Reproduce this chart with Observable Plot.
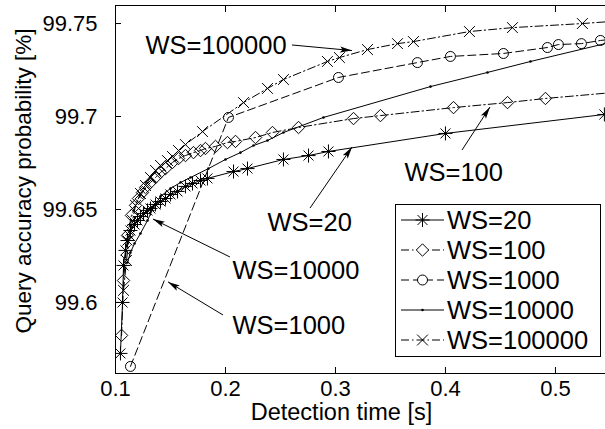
<!DOCTYPE html>
<html><head><meta charset="utf-8">
<script src="https://cdn.jsdelivr.net/npm/d3@7"></script>
<script src="https://cdn.jsdelivr.net/npm/@observablehq/plot@0.6"></script>
<style>html,body{margin:0;padding:0;background:#fff}svg{display:block}</style>
</head><body><div id="chart"></div>
<script>
// ---- data (detection time [s], query accuracy probability [%]) ----
const ws20 = [[0.1045,99.5726],[0.1064,99.6000],[0.1073,99.6199],[0.1091,99.6280],[0.1109,99.6333],[0.1136,99.6387],[0.1173,99.6419],[0.1200,99.6441],[0.1227,99.6462],[0.1255,99.6478],[0.1291,99.6495],[0.1318,99.6505],[0.1364,99.6527],[0.1409,99.6543],[0.1455,99.6559],[0.1500,99.6581],[0.1564,99.6597],[0.1636,99.6624],[0.1700,99.6640],[0.1773,99.6656],[0.1836,99.6667],[0.2073,99.6704],[0.2200,99.6720],[0.2527,99.6769],[0.2755,99.6790],[0.2936,99.6812],[0.4000,99.6909],[0.5445,99.7011]];
const ws100 = [[0.1055,99.5823],[0.1073,99.6118],[0.1109,99.6360],[0.1145,99.6468],[0.1182,99.6522],[0.1209,99.6559],[0.1245,99.6591],[0.1273,99.6618],[0.1318,99.6645],[0.1364,99.6672],[0.1409,99.6699],[0.1455,99.6720],[0.1518,99.6753],[0.1573,99.6774],[0.1636,99.6790],[0.1709,99.6806],[0.1773,99.6817],[0.1818,99.6828],[0.1909,99.6839],[0.2018,99.6860],[0.2091,99.6866],[0.2273,99.6887],[0.2427,99.6914],[0.2664,99.6941],[0.3164,99.6989],[0.3409,99.7005],[0.4073,99.7048],[0.4564,99.7075],[0.4909,99.7097],[0.5600,99.7133]];
const ws1000 = [[0.1136,99.5656],[0.2027,99.6995],[0.3027,99.7210],[0.3745,99.7290],[0.4045,99.7323],[0.4527,99.7339],[0.4927,99.7371],[0.5027,99.7387],[0.5236,99.7392],[0.5409,99.7409],[0.5600,99.7420]];
const ws10000 = [[0.1109,99.6215],[0.1136,99.6269],[0.1173,99.6317],[0.1227,99.6371],[0.1291,99.6441],[0.1345,99.6511],[0.1409,99.6570],[0.1500,99.6613],[0.1591,99.6645],[0.1682,99.6672],[0.1845,99.6720],[0.2000,99.6769],[0.2136,99.6806],[0.2255,99.6844],[0.2382,99.6871],[0.2527,99.6914],[0.2891,99.6995],[0.3864,99.7161],[0.4382,99.7237],[0.4773,99.7296],[0.5600,99.7413]];
const ws100000 = [[0.1073,99.6065],[0.1100,99.6226],[0.1127,99.6360],[0.1155,99.6441],[0.1182,99.6522],[0.1227,99.6586],[0.1273,99.6629],[0.1318,99.6672],[0.1364,99.6710],[0.1409,99.6737],[0.1473,99.6763],[0.1518,99.6785],[0.1573,99.6817],[0.1636,99.6849],[0.1791,99.6919],[0.2164,99.7075],[0.2382,99.7151],[0.2527,99.7199],[0.2927,99.7296],[0.3036,99.7317],[0.3291,99.7360],[0.3564,99.7392],[0.3709,99.7403],[0.4218,99.7457],[0.4609,99.7478],[0.5245,99.7500],[0.5600,99.7515]];

const seriesNames = ["WS=20","WS=100","WS=1000","WS=10000","WS=100000"];
const xTicks = [0.1,0.2,0.3,0.4,0.5];
const yTicks = [99.6,99.65,99.7,99.75];
const xDomain = [0.1,0.5455];
const yDomain = [99.5618,99.7597];
const xLabel = "Detection time [s]";
const yLabel = "Query accuracy probability [%]";
const annotations = [
  {label:"WS=100000", tx:0.1273, ty:99.7382, x1:0.2609, y1:99.7382, x2:0.3155, y2:99.7352},
  {label:"WS=100",    tx:0.3627, ty:99.6699, x1:0.4155, y1:99.6817, x2:0.4409, y2:99.7048},
  {label:"WS=20",     tx:0.2382, ty:99.6430, x1:0.2773, y1:99.6505, x2:0.3155, y2:99.6833},
  {label:"WS=10000",  tx:0.2064, ty:99.6172, x1:0.2045, y1:99.6242, x2:0.1345, y2:99.6446},
  {label:"WS=1000",   tx:0.2064, ty:99.5876, x1:0.1982, y1:99.5930, x2:0.1482, y2:99.6108}
];

// ---- styles ----
const DASH = "8,4", DASHDOT = "8,3,1.5,3";
const series = [
  {name:seriesNames[0], data:ws20,     dash:null,    marks:[{symbol:"plus",r:4.6},{symbol:"times",r:4.6}]},
  {name:seriesNames[1], data:ws100,    dash:DASHDOT, marks:[{symbol:"diamond2",r:5.6}]},
  {name:seriesNames[2], data:ws1000,   dash:DASH,    marks:[{symbol:"circle",r:5}]},
  {name:seriesNames[3], data:ws10000,  dash:null,    marks:[{symbol:"circle",r:1.3,fill:"black"}]},
  {name:seriesNames[4], data:ws100000, dash:DASHDOT, marks:[{symbol:"times",r:5}]}
];
const FONT = "'Liberation Sans', Arial, Helvetica, sans-serif";
const BIG = 25.5;

const marks = [];
for (const s of series) {
  const rows = s.data.map(([x,y]) => ({x,y,series:s.name}));
  marks.push(Plot.line(rows, {x:"x", y:"y", stroke:"black", strokeWidth:1, strokeDasharray:s.dash ?? undefined, clip:true}));
  for (const m of s.marks) {
    marks.push(Plot.dot(rows, {x:"x", y:"y", symbol:m.symbol, r:m.r, stroke: m.fill ? "none" : "black", fill:m.fill ?? "none", strokeWidth:1, clip:true}));
  }
}

const plot = Plot.plot({
  width:605, height:429,
  marginLeft:115, marginRight:0, marginTop:5, marginBottom:56,
  style:{fontFamily:FONT, fontSize:"22px", background:"white", color:"black", overflow:"visible"},
  x:{domain:xDomain},
  y:{domain:yDomain},
  marks:[
    ...marks,
    Plot.ruleX([xDomain[0]], {stroke:"black", strokeWidth:1}),
    Plot.ruleY([yDomain[0], yDomain[1]], {stroke:"black", strokeWidth:1}),
    Plot.axisX({ticks:xTicks, tickFormat:d=>String(d), tickSize:-6, tickPadding:13, label:null, fontSize:22}),
    Plot.axisX({anchor:"top", ticks:xTicks, tickFormat:()=>"", tickSize:-6, label:null}),
    Plot.axisY({ticks:yTicks, tickFormat:d=>String(d), tickSize:-6, tickPadding:24, label:null, fontSize:22}),
    Plot.text([xLabel], {frameAnchor:"bottom", dx:-19, dy:39, fontSize:23.5, lineAnchor:"middle"}),
    Plot.text(annotations, {x:"tx", y:"ty", text:"label", textAnchor:"start", lineAnchor:"middle", fontSize:BIG, fill:"black"})
  ]
});
document.getElementById("chart").appendChild(plot);

// ---- y title, arrows and legend drawn with the plot's scales ----
const svg = d3.select(plot);
const sx = plot.scale("x"), sy = plot.scale("y");
svg.append("text").attr("transform","translate(23,181) rotate(-90)")
  .attr("text-anchor","middle").attr("dy","0.35em")
  .attr("font-family",FONT).attr("font-size",22.5).attr("fill","black").text(yLabel);

svg.append("defs").append("marker")
  .attr("id","ah").attr("viewBox","0 -4 12 8").attr("refX",12).attr("refY",0)
  .attr("markerWidth",12).attr("markerHeight",8).attr("markerUnits","userSpaceOnUse").attr("orient","auto")
  .append("path").attr("d","M0,-3L12,0L0,3L2.5,0Z").attr("fill","black");
svg.append("g").selectAll("line").data(annotations).join("line")
  .attr("x1",d=>sx.apply(d.x1)).attr("y1",d=>sy.apply(d.y1))
  .attr("x2",d=>sx.apply(d.x2)).attr("y2",d=>sy.apply(d.y2))
  .attr("stroke","black").attr("stroke-width",1).attr("marker-end","url(#ah)");

const lg = svg.append("g").attr("font-family",FONT).attr("font-size",BIG).attr("text-anchor","start");
lg.append("rect").attr("x",395.5).attr("y",204.5).attr("width",205).attr("height",152).attr("fill","white").attr("stroke","black");
const symMap = {plus:d3.symbolPlus, times:d3.symbolTimes, diamond2:d3.symbolDiamond2, circle:d3.symbolCircle};
series.forEach((s,i) => {
  const cy = 220 + 30*i;
  lg.append("line").attr("x1",401).attr("x2",444).attr("y1",cy).attr("y2",cy).attr("stroke","black").attr("stroke-dasharray",s.dash ?? null);
  for (const m of s.marks) {
    lg.append("path").attr("transform",`translate(422.5,${cy})`)
      .attr("d", d3.symbol(symMap[m.symbol], Math.PI*m.r*m.r)())
      .attr("fill", m.fill ?? (m.symbol==="circle"||m.symbol==="diamond2" ? "white" : "none"))
      .attr("stroke", m.fill ? "none" : "black");
  }
  lg.append("text").attr("x",447).attr("y",cy).attr("dy","0.35em").attr("fill","black").attr("text-anchor","start").text(s.name);
});
</script>
</body></html>
